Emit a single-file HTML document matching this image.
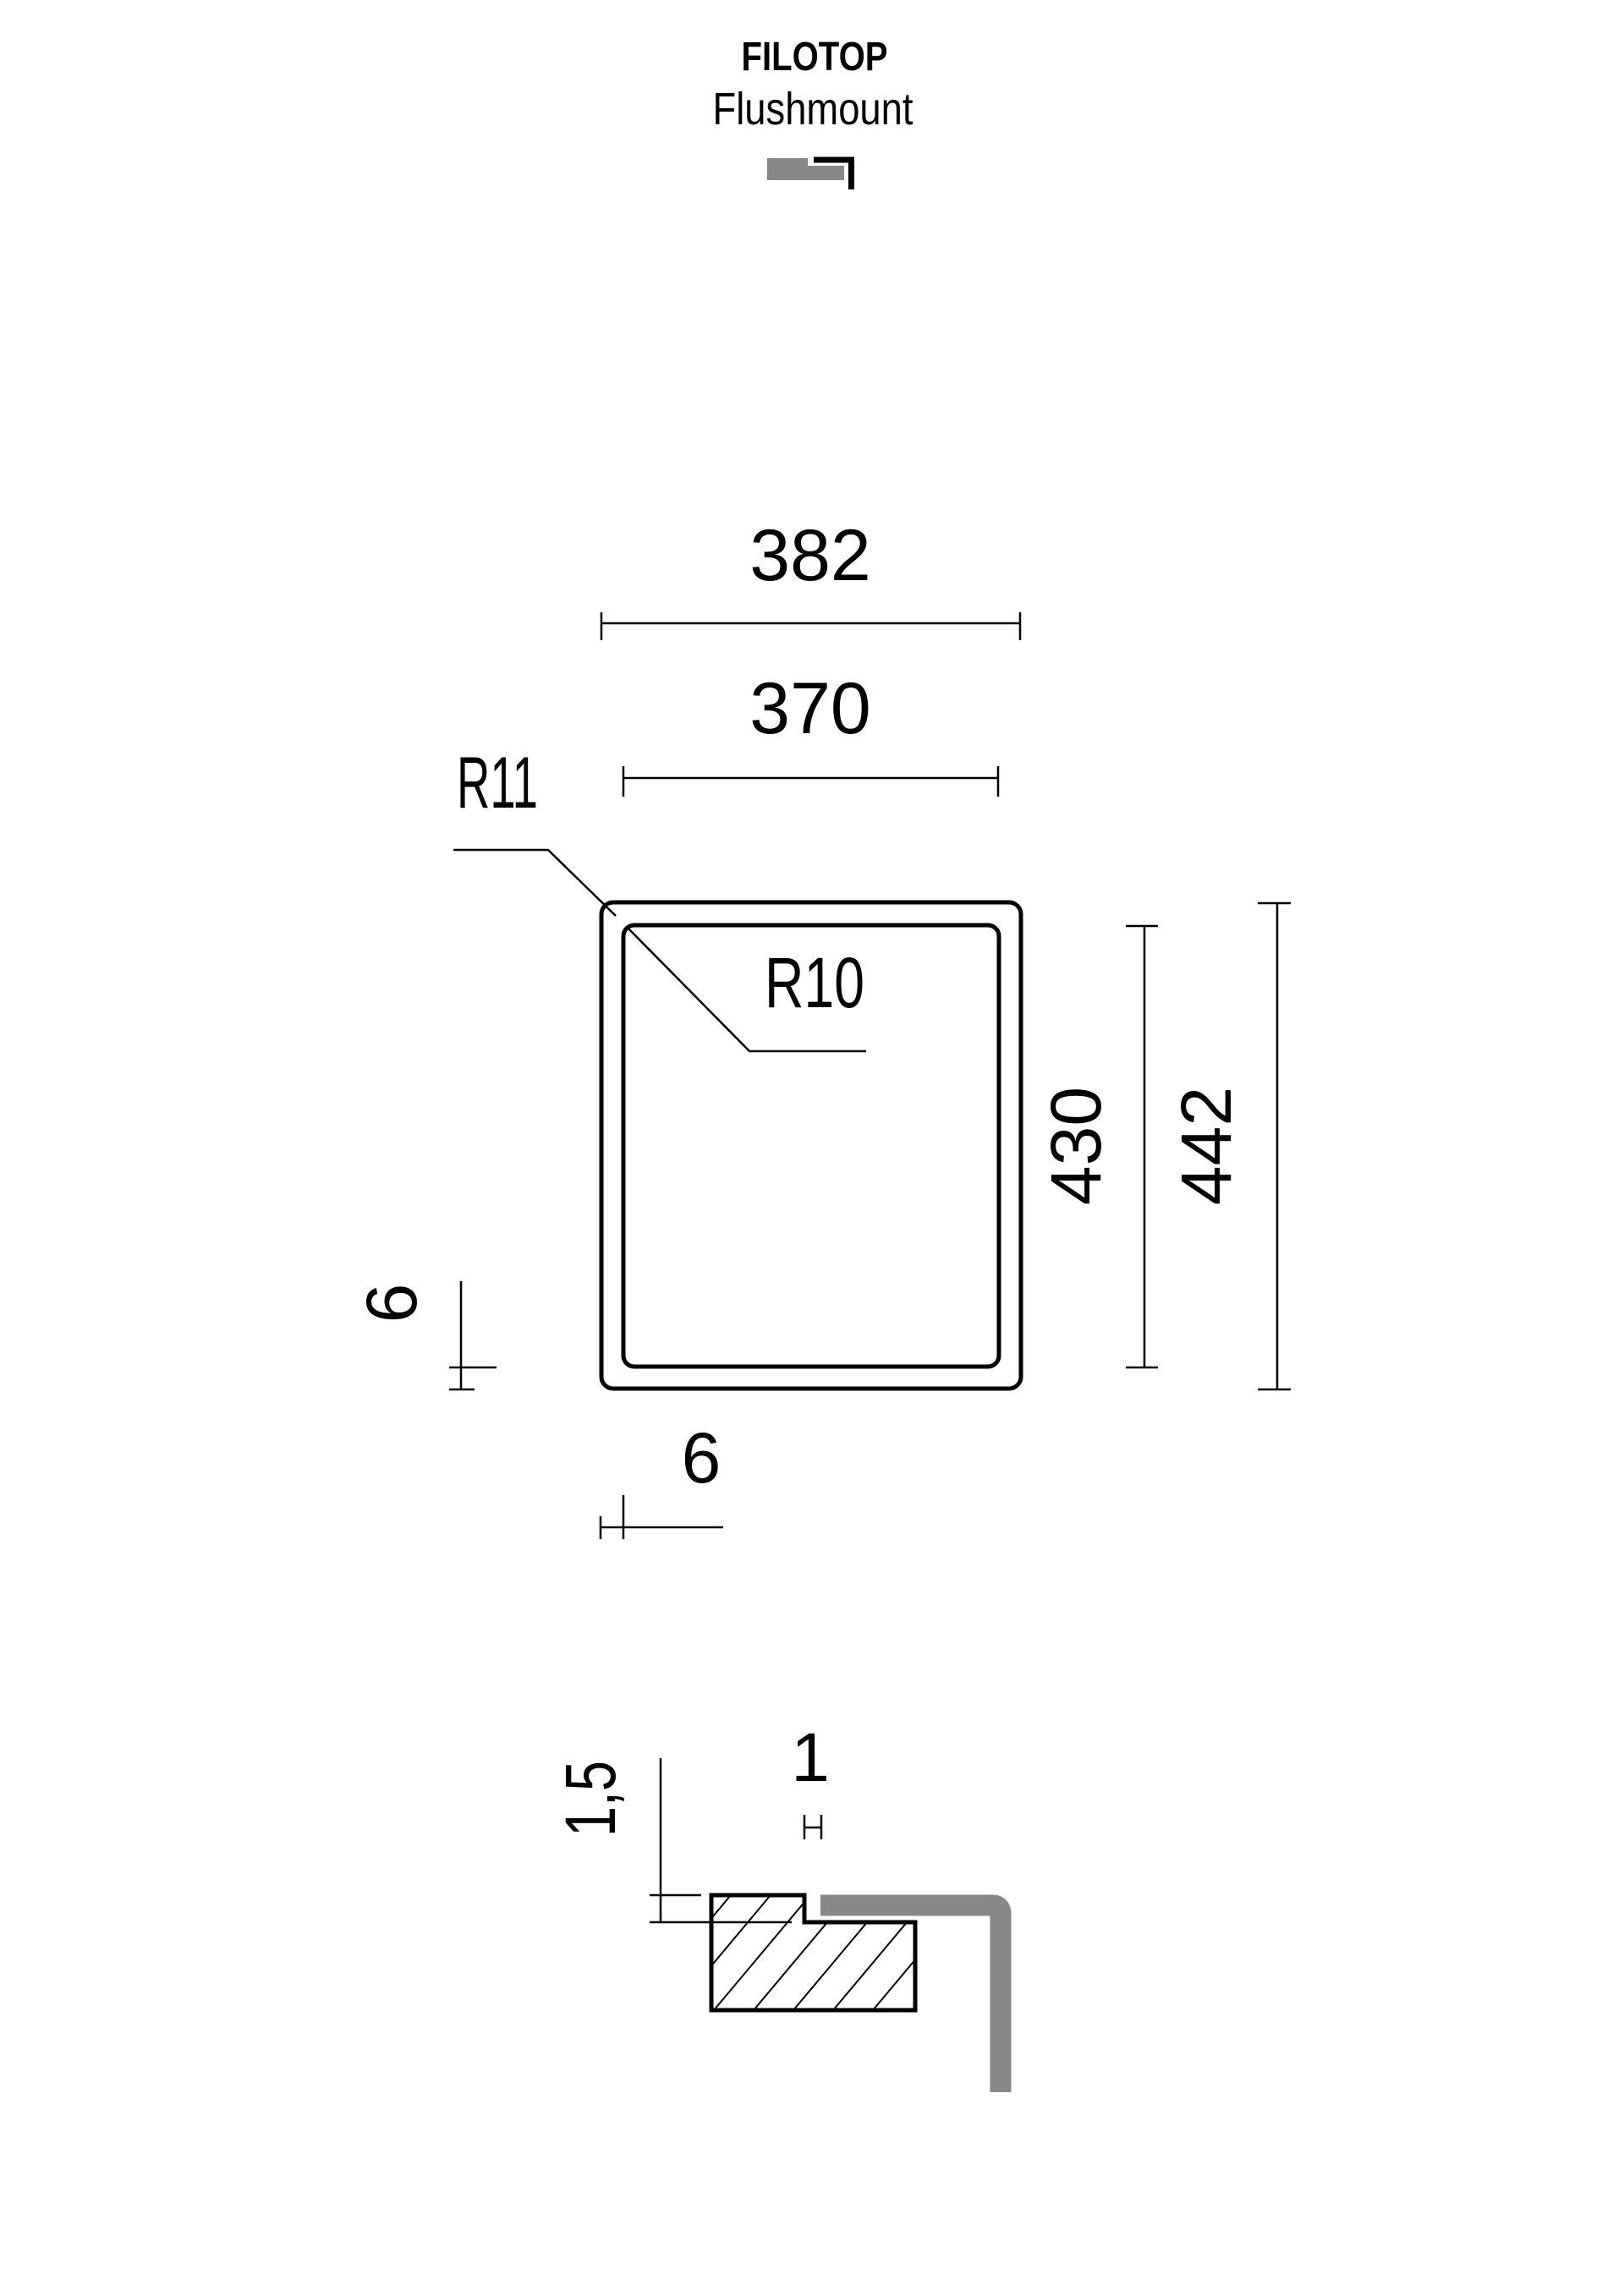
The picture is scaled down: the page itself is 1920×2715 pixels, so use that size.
<!DOCTYPE html>
<html><head><meta charset="utf-8"><style>
html,body{margin:0;padding:0;background:#fff;}
svg{display:block;}
text{font-family:"Liberation Sans",sans-serif;fill:#000;}
</style></head><body>
<svg width="1920" height="2715" viewBox="0 0 1920 2715" xmlns="http://www.w3.org/2000/svg">
<defs>
<clipPath id="hc"><path d="M841,2241 H951 V2273 H1082 V2377 H841 Z"/></clipPath>
</defs>
<!-- header -->
<text x="963" y="83" font-size="48" font-weight="bold" text-anchor="middle" textLength="173" lengthAdjust="spacingAndGlyphs" style="font-family:'Liberation Sans Narrow','Liberation Sans',sans-serif">FILOTOP</text>
<text x="961" y="147" font-size="54" text-anchor="middle" textLength="237" lengthAdjust="spacingAndGlyphs" style="font-family:'Liberation Sans Narrow','Liberation Sans',sans-serif">Flushmount</text>
<path d="M907,187 H955 V196 H998 V213 H907 Z" fill="#888"/>
<path d="M962,189 H1006.5 V224" fill="none" stroke="#000" stroke-width="7"/>

<!-- main plan -->
<g fill="none" stroke="#000">
<rect x="711" y="1067" width="496" height="575" rx="14" stroke-width="5"/>
<rect x="737" y="1094" width="444" height="522" rx="13" stroke-width="5"/>
<g stroke-width="2.5">
<line x1="710" y1="737" x2="1206" y2="737"/>
<line x1="711" y1="724" x2="711" y2="757"/>
<line x1="1206" y1="724" x2="1206" y2="757"/>
<line x1="736" y1="920" x2="1180" y2="920"/>
<line x1="737" y1="906" x2="737" y2="942"/>
<line x1="1180" y1="906" x2="1180" y2="942"/>
<polyline points="536,1005 648,1005 728,1083"/>
<polyline points="741,1096 886,1243 1024,1243"/>
<line x1="1353" y1="1094" x2="1353" y2="1617"/>
<line x1="1331" y1="1095" x2="1369" y2="1095"/>
<line x1="1331" y1="1617" x2="1369" y2="1617"/>
<line x1="1510" y1="1067" x2="1510" y2="1643"/>
<line x1="1487" y1="1068" x2="1526" y2="1068"/>
<line x1="1487" y1="1643" x2="1526" y2="1643"/>
<line x1="545" y1="1515" x2="545" y2="1644"/>
<line x1="531" y1="1617" x2="587" y2="1617"/>
<line x1="531" y1="1643" x2="561" y2="1643"/>
<line x1="710" y1="1806" x2="855" y2="1806"/>
<line x1="710" y1="1793" x2="710" y2="1820"/>
<line x1="737" y1="1768" x2="737" y2="1820"/>
</g>
</g>
<text x="958" y="686" font-size="86" text-anchor="middle">382</text>
<text x="958" y="867" font-size="86" text-anchor="middle">370</text>
<text x="540" y="955" font-size="86" textLength="96" lengthAdjust="spacingAndGlyphs">R11</text>
<text x="904" y="1191" font-size="84" textLength="118" lengthAdjust="spacingAndGlyphs">R10</text>
<text x="1301" y="1355" font-size="84" text-anchor="middle" transform="rotate(-90 1301 1355)">430</text>
<text x="1455" y="1355" font-size="84" text-anchor="middle" transform="rotate(-90 1455 1355)">442</text>
<text x="492" y="1541" font-size="84" text-anchor="middle" transform="rotate(-90 492 1541)">6</text>
<text x="829" y="1753" font-size="84" text-anchor="middle">6</text>

<!-- section -->
<path d="M970,2253 H1173 Q1183,2253 1183,2263 V2474" fill="none" stroke="#888" stroke-width="25"/>
<g clip-path="url(#hc)" stroke="#000" stroke-width="2">
<line x1="750" y1="2377" x2="864" y2="2241"/>
<line x1="797" y1="2377" x2="911" y2="2241"/>
<line x1="844" y1="2377" x2="958" y2="2241"/>
<line x1="891" y1="2377" x2="1005" y2="2241"/>
<line x1="938" y1="2377" x2="1052" y2="2241"/>
<line x1="985" y1="2377" x2="1099" y2="2241"/>
<line x1="1032" y1="2377" x2="1146" y2="2241"/>
<line x1="1079" y1="2377" x2="1193" y2="2241"/>
</g>
<path d="M841,2241 H951 V2273 H1082 V2377 H841 Z" fill="none" stroke="#000" stroke-width="5"/>
<g stroke="#000" stroke-width="2.5">
<line x1="781" y1="2079" x2="781" y2="2274"/>
<line x1="768" y1="2241" x2="829" y2="2241"/>
<line x1="768" y1="2273" x2="936" y2="2273"/>
<line x1="951" y1="2146" x2="951" y2="2175"/>
<line x1="971" y1="2146" x2="971" y2="2175"/>
<line x1="951" y1="2161" x2="971" y2="2161"/>
</g>
<text x="958" y="2106" font-size="82" text-anchor="middle">1</text>
<text x="727" y="2127" font-size="84" text-anchor="middle" textLength="90" lengthAdjust="spacingAndGlyphs" transform="rotate(-90 727 2127)">1,5</text>
</svg>
</body></html>
